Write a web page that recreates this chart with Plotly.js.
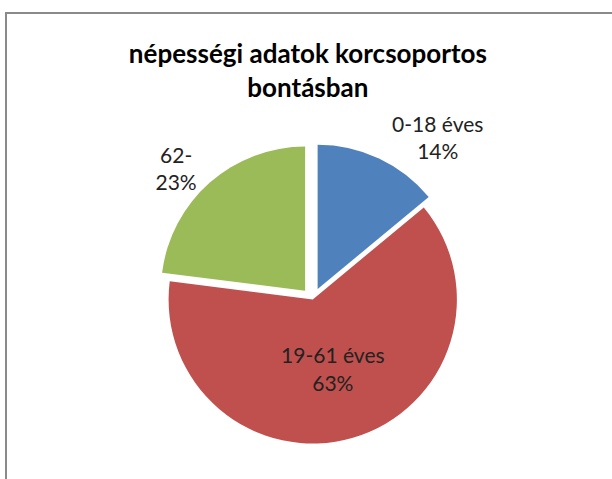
<!DOCTYPE html>
<html><head><meta charset="utf-8">
<script src="https://cdn.plot.ly/plotly-3.0.1.min.js"></script>
<style>
body{margin:0;background:#fff;}
#chart{width:612px;height:479px;position:absolute;left:0;top:0;}
#frame{position:absolute;left:5px;top:12px;width:700px;height:600px;border:2px solid #8a8a8a;pointer-events:none;}
</style></head>
<body>
<div id="chart"></div>
<div id="frame"></div>
<script>
const categories = ["0-18 éves", "19-61 éves", "62-"];
const shares = [14, 63, 23];
const colors = ["#4F81BD", "#C0504D", "#9BBB59"];
const textPositions = ["outside", "inside", "outside"];
const pulls = [0.08, 0, 0.08];

const trace = {
  type: "pie",
  labels: categories,
  values: shares,
  sort: false,
  direction: "clockwise",
  rotation: 0,
  pull: pulls,
  marker: {colors: colors, line: {color: "#ffffff", width: 0}},
  texttemplate: "%{label}<br>%{percent:.0%}",
  textposition: textPositions,
  insidetextorientation: "horizontal",
  textfont: {family: "Lato, 'Open Sans', sans-serif", size: 21, color: "#222"},
  hoverinfo: "label+percent",
  domain: {x: [0.25, 0.772], y: [0.05, 0.70]},
  showlegend: false
};

const layout = {
  width: 612, height: 479,
  margin: {l: 0, r: 0, t: 0, b: 0},
  paper_bgcolor: "#ffffff",
  title: {
    text: "<b>népességi adatok korcsoportos<br>bontásban</b>",
    x: 0.503, xanchor: "center", y: 0.868, yanchor: "middle",
    font: {family: "Lato, 'Open Sans', sans-serif", size: 26, color: "#000"}
  },
  showlegend: false
};

Plotly.newPlot("chart", [trace], layout, {displayModeBar: false, staticPlot: true});
</script>
</body></html>
